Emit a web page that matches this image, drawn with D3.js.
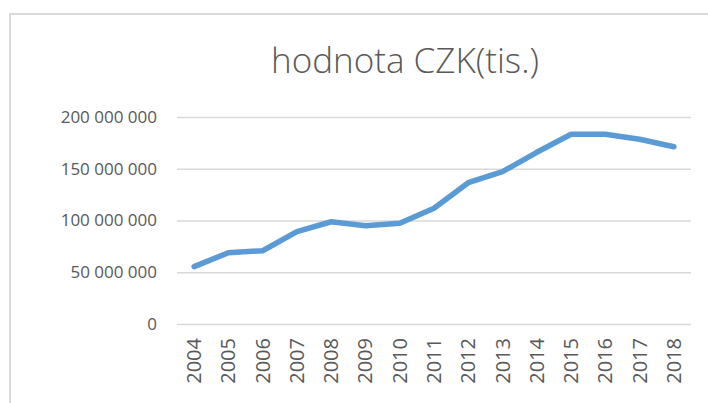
<!DOCTYPE html>
<html>
<head>
<meta charset="utf-8">
<script src="https://cdn.jsdelivr.net/npm/d3@7"></script>
<style>
  body { margin: 0; background: #fff; }
  svg { display: block; font-family: "Open Sans", "Noto Sans", sans-serif; }
</style>
</head>
<body>
<div id="chart"></div>
<script>
// Chart data
var years = ["2004", "2005", "2006", "2007", "2008", "2009", "2010", "2011",
             "2012", "2013", "2014", "2015", "2016", "2017", "2018"];
var values = [55400000, 68900000, 70800000, 89200000, 98800000, 95000000, 97300000,
              111800000, 136500000, 147200000, 165900000, 183300000, 183300000,
              178500000, 171300000];
var yTicks = [0, 50000000, 100000000, 150000000, 200000000];
var title = "hodnota CZK(tis.)";

var width = 708;
var height = 403;
var textColor = "#595959";
var gridColor = "#d9d9d9";
var lineColor = "#5b9bd5";

var svg = d3.select("#chart").append("svg")
    .attr("width", width)
    .attr("height", height);

// Outer chart frame (only left and top edges visible in the picture)
svg.append("path")
    .attr("d", "M10," + height + "V14H" + width)
    .attr("fill", "none")
    .attr("stroke", gridColor)
    .attr("stroke-width", 2);

// Title
svg.append("text")
    .attr("x", 405)
    .attr("y", 73)
    .attr("text-anchor", "middle")
    .attr("fill", textColor)
    .style("font-size", "35px")
    .style("font-weight", 300)
    .text(title);

// Scales
var x = d3.scaleBand()
    .domain(years)
    .range([177, 691]);

var y = d3.scaleLinear()
    .domain([0, 200000000])
    .range([324, 117]);

// Number format with space as thousands separator
var fmt = function(d) { return d3.format(",")(d).replace(/,/g, " "); };

// Gridlines + y labels
var yAxis = svg.append("g")
    .attr("transform", "translate(177,0)")
    .call(d3.axisLeft(y)
        .tickValues(yTicks)
        .tickSize(-(691 - 177))
        .tickPadding(20)
        .tickFormat(fmt));
yAxis.select(".domain").remove();
yAxis.selectAll(".tick line")
    .attr("stroke", gridColor)
    .attr("stroke-width", 1.5);
yAxis.selectAll(".tick text")
    .attr("fill", textColor)
    .style("font-size", "17px")
    .style("font-family", "'Open Sans', sans-serif");

// X labels, rotated
var xAxis = svg.append("g")
    .attr("class", "x-labels");
xAxis.selectAll("text")
    .data(years)
    .enter().append("text")
    .attr("transform", function(d) {
        return "translate(" + (x(d) + x.bandwidth() / 2) + ",338) rotate(-90)";
    })
    .attr("text-anchor", "end")
    .attr("dy", "0.35em")
    .attr("fill", textColor)
    .style("font-size", "20px")
    .text(function(d) { return d; });

// The line
var line = d3.line()
    .x(function(d, i) { return x(years[i]) + x.bandwidth() / 2; })
    .y(function(d) { return y(d); });

svg.append("path")
    .datum(values)
    .attr("fill", "none")
    .attr("stroke", lineColor)
    .attr("stroke-width", 5.5)
    .attr("stroke-linejoin", "round")
    .attr("stroke-linecap", "round")
    .attr("d", line);
</script>
</body>
</html>
